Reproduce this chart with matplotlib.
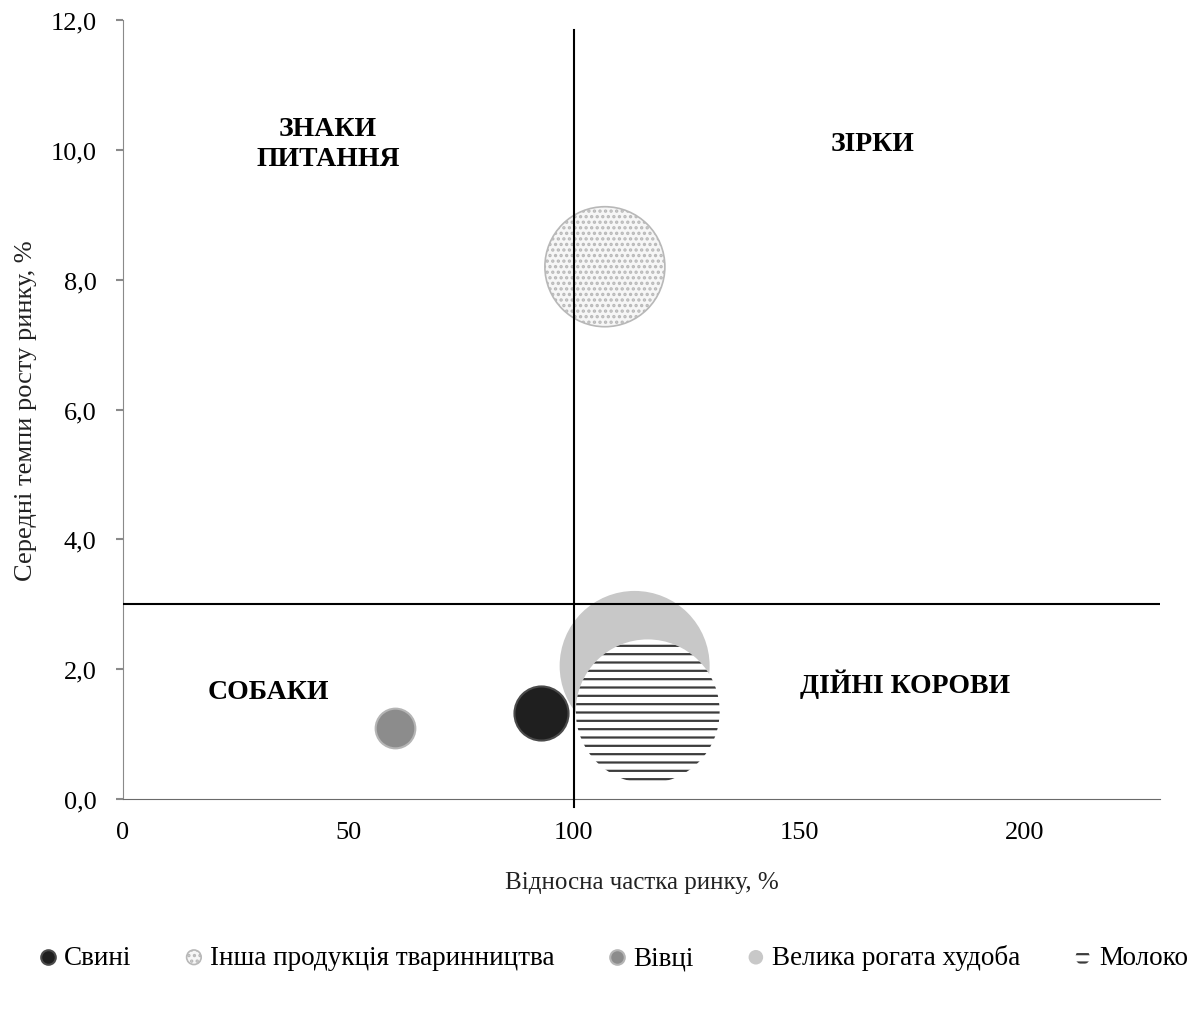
import numpy as np
import matplotlib.pyplot as plt
from matplotlib.ticker import FuncFormatter

plt.rcParams['font.family'] = ['Liberation Serif', 'DejaVu Serif']
plt.rcParams['hatch.linewidth'] = 1.6

# BCG matrix for livestock products
products = ['Свині', 'Інша продукція тваринництва', 'Вівці', 'Велика рогата худоба', 'Молоко']
relative_share = [92.7, 106.9, 60.3, 113.5, 116.4]   # %
growth_rate = [1.32, 8.2, 1.1, 2.05, 1.35]           # %
bubble_size = [13, 64, 7, 100, 92]

share_threshold = 100
growth_threshold = 3.0

quadrants = ['ЗНАКИ\nПИТАННЯ', 'ЗІРКИ', 'СОБАКИ', 'ДІЙНІ КОРОВИ']

styles = [
    dict(facecolor='#1f1f1f', edgecolor='#4a4a4a', linewidth=1.5),
    dict(facecolor='#f6f6f6', edgecolor='#b8b8b8', linewidth=1.2, hatch='...'),
    dict(facecolor='#8c8c8c', edgecolor='#b5b5b5', linewidth=1.5),
    dict(facecolor='#c8c8c8', edgecolor='none', linewidth=0),
    dict(facecolor='white', edgecolor='#3c3c3c', linewidth=0, hatch='--'),
]

fig = plt.figure(figsize=(12, 10.12), dpi=100)
ax = fig.add_axes([0.1025, 0.2095, 0.864, 0.7697])

max_r = 54  # points, radius of the largest bubble
for name, x, y, s, st in zip(products, relative_share, growth_rate, bubble_size, styles):
    r = max_r * np.sqrt(s / max(bubble_size))
    ax.scatter([x], [y], s=(2 * r) ** 2, label=name, zorder=2, **st)

# quadrant dividers
ax.axhline(growth_threshold, color='black', lw=1.5, zorder=3)
ax.plot([share_threshold, share_threshold], [-0.12, 11.85], color='black', lw=1.5,
        zorder=3, clip_on=False)

label_kw = dict(ha='center', va='center', fontsize=20, fontweight='bold', linespacing=1.3)
ax.text(45.5, 10.1, quadrants[0], **label_kw)
ax.text(166.3, 10.1, quadrants[1], **label_kw)
ax.text(32.2, 1.65, quadrants[2], **label_kw)
ax.text(173.4, 1.78, quadrants[3], **label_kw)

ax.set_xlim(0, 230)
ax.set_ylim(0, 12)
ax.set_xticks([0, 50, 100, 150, 200])
ax.set_yticks(np.arange(0, 12.1, 2))
ax.yaxis.set_major_formatter(FuncFormatter(lambda v, p: f'{v:.1f}'.replace('.', ',')))

for side in ['top', 'right']:
    ax.spines[side].set_visible(False)
ax.spines['left'].set_color('#8a8a8a')
ax.spines['bottom'].set_color('#6a6a6a')
ax.tick_params(axis='y', length=5, width=1.5, color='#8a8a8a', pad=14, labelsize=19)
ax.tick_params(axis='x', length=0, pad=16, labelsize=19)

ax.set_xlabel('Відносна частка ринку, %', fontsize=18, color='#222222', labelpad=20)
ax.set_ylabel('Середні темпи росту ринку, %', fontsize=19, color='#222222')
ax.yaxis.set_label_coords(-0.083, 0.5)

leg = ax.legend(loc='center', bbox_to_anchor=(0.511, 0.053), bbox_transform=fig.transFigure,
                ncol=5, frameon=False, fontsize=19.5, handlelength=0.7, handletextpad=0.25,
                columnspacing=1.95, scatterpoints=1)
for h in leg.legend_handles:
    h.set_sizes([110])

fig.savefig('out.png', dpi=100)
